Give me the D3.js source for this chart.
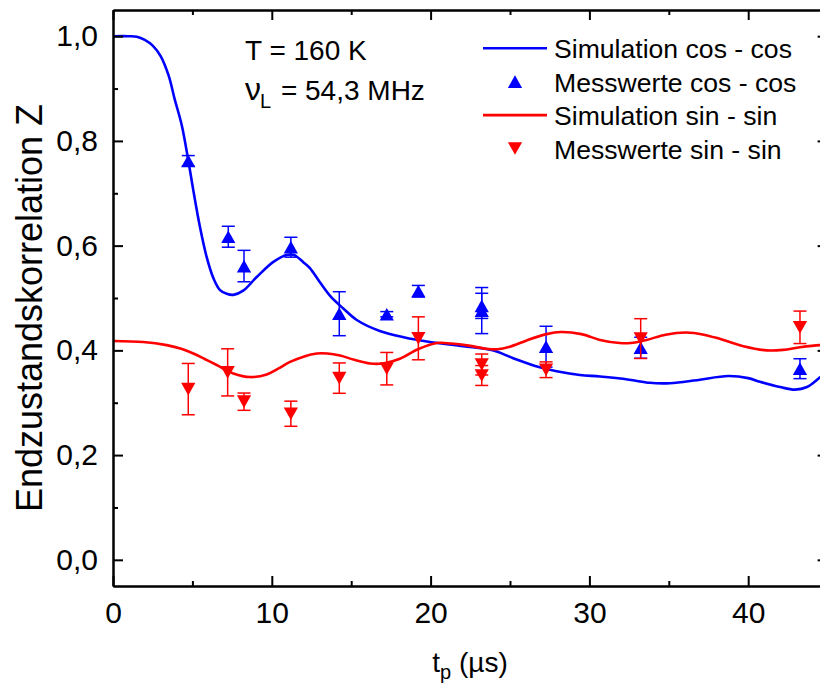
<!DOCTYPE html>
<html>
<head>
<meta charset="utf-8">
<script src="https://cdn.jsdelivr.net/npm/d3@7"></script>
<style>
  body { margin: 0; background: #fff; }
  svg { display: block; font-family: "Liberation Sans", Arial, sans-serif; }
</style>
</head>
<body>
<svg id="chart" width="820" height="688"></svg>
<script>
// simulation curves (t in µs, Z)
const simCosT = [0, 1.0, 1.5, 2.0, 2.5, 3.0, 3.5, 3.9, 4.33, 4.74, 5.06, 5.48, 5.9, 6.32, 6.74, 7.16, 7.58, 8.2, 9.05, 10.1, 10.94, 11.4, 12.0, 12.4, 13.03, 13.7, 14.5, 15.35, 16.8, 18.3, 19.96, 22.06, 23.9, 25.2, 26.7, 27.94, 29.4, 30.67, 32.5, 33.8, 34.87, 36.0, 36.96, 38.75, 40.0, 40.74, 42.0, 42.95, 43.7, 44.5, 45];
const simCosZ = [1.0, 1.0, 0.999, 0.993, 0.982, 0.962, 0.925, 0.878, 0.83, 0.763, 0.705, 0.635, 0.578, 0.538, 0.515, 0.508, 0.506, 0.514, 0.540, 0.569, 0.582, 0.582, 0.568, 0.557, 0.530, 0.503, 0.480, 0.458, 0.437, 0.425, 0.416, 0.408, 0.400, 0.385, 0.369, 0.360, 0.353, 0.350, 0.344, 0.338, 0.337, 0.340, 0.344, 0.351, 0.347, 0.340, 0.330, 0.325, 0.330, 0.348, 0.36];
const simSinT = [0, 1.9, 3.38, 4.3, 5.06, 5.8, 6.53, 7.58, 8.63, 9.68, 10.4, 11.15, 12.0, 12.83, 13.5, 14.3, 15.2, 16.18, 17.0, 18.07, 19.2, 20.4, 21.3, 22.4, 23.5, 24.2, 25.0, 26.05, 27.3, 28.2, 29.5, 30.67, 31.9, 32.6, 33.6, 34.8, 36.1, 37.2, 38.2, 39.7, 41.16, 42.2, 43.26, 44.5, 45];
const simSinZ = [0.418, 0.416, 0.410, 0.403, 0.394, 0.383, 0.372, 0.356, 0.349, 0.354, 0.365, 0.378, 0.388, 0.394, 0.394, 0.390, 0.382, 0.375, 0.375, 0.384, 0.402, 0.414, 0.413, 0.409, 0.403, 0.402, 0.407, 0.419, 0.431, 0.435, 0.431, 0.420, 0.414, 0.414, 0.420, 0.430, 0.434, 0.430, 0.422, 0.408, 0.400, 0.401, 0.406, 0.41, 0.41];

// measured values
const cosT = [4.74, 7.26, 8.25, 11.2, 14.25, 17.24, 19.23, 23.22, 23.22, 27.27, 33.23, 43.26];
const cosZ = [0.762, 0.617, 0.561, 0.597, 0.470, 0.469, 0.513, 0.485, 0.476, 0.407, 0.405, 0.365];
const cosErr = [0.010, 0.020, 0.030, 0.019, 0.042, 0.005, 0.011, 0.024, 0.044, 0.039, 0.020, 0.019];
const sinT = [4.74, 7.22, 8.25, 11.2, 14.25, 17.24, 19.23, 23.22, 23.22, 27.27, 33.23, 43.26];
const sinZ = [0.326, 0.358, 0.302, 0.279, 0.347, 0.365, 0.423, 0.373, 0.352, 0.363, 0.4225, 0.444];
const sinErr = [0.049, 0.045, 0.0165, 0.024, 0.029, 0.031, 0.041, 0.020, 0.019, 0.015, 0.038, 0.031];

const xTicks = [0, 10, 20, 30, 40];
const xTickLabels = ["0", "10", "20", "30", "40"];
const xMinor = [5, 15, 25, 35, 45];
const yTicks = [0, 0.2, 0.4, 0.6, 0.8, 1.0];
const yTickLabels = ["0,0", "0,2", "0,4", "0,6", "0,8", "1,0"];
const yMinor = [0.1, 0.3, 0.5, 0.7, 0.9];

const legendItems = [
  {label: "Simulation cos - cos", kind: "line", color: "#0000ff"},
  {label: "Messwerte cos - cos", kind: "up", color: "#0000ff"},
  {label: "Simulation sin - sin", kind: "line", color: "#ff0000"},
  {label: "Messwerte sin - sin", kind: "down", color: "#ff0000"}
];

const svg = d3.select("#chart");
const mLeft = 113, mRight = 827.6, mTop = 10, mBottom = 586;
const x = d3.scaleLinear().domain([0, 45]).range([mLeft, mRight]);
const y = d3.scaleLinear().domain([-0.05, 1.05]).range([mBottom, mTop]);

// triangle symbols centered on their bounding box
const triUp = {draw(ctx, size) { const w = Math.sqrt(size * 4 / Math.sqrt(3)), h = w * 0.89;
  ctx.moveTo(0, -h / 2); ctx.lineTo(w / 2, h / 2); ctx.lineTo(-w / 2, h / 2); ctx.closePath(); }};
const triDown = {draw(ctx, size) { const w = Math.sqrt(size * 4 / Math.sqrt(3)), h = w * 0.89;
  ctx.moveTo(0, h / 2); ctx.lineTo(w / 2, -h / 2); ctx.lineTo(-w / 2, -h / 2); ctx.closePath(); }};
const symSize = 88;

svg.append("clipPath").attr("id", "clip").append("rect")
  .attr("x", mLeft).attr("y", mTop).attr("width", mRight - mLeft).attr("height", mBottom - mTop);

const line = d3.line().x(d => x(d[0])).y(d => y(d[1])).curve(d3.curveCatmullRom.alpha(0.5));
const plot = svg.append("g").attr("clip-path", "url(#clip)");

function drawSeries(simT, simZ, t, z, err, color, sym) {
  plot.append("path").datum(d3.zip(simT, simZ)).attr("d", line)
    .attr("fill", "none").attr("stroke", color).attr("stroke-width", 2.6);
  const pts = d3.zip(t, z, err);
  const g = plot.append("g");
  pts.forEach(([tt, zz, ee]) => {
    const cx = x(tt), y1 = y(zz + ee), y2 = y(zz - ee);
    g.append("line").attr("x1", cx).attr("x2", cx).attr("y1", y1).attr("y2", y2)
      .attr("stroke", color).attr("stroke-width", 1.5);
    [y1, y2].forEach(yy => g.append("line").attr("x1", cx - 6.5).attr("x2", cx + 6.5)
      .attr("y1", yy).attr("y2", yy).attr("stroke", color).attr("stroke-width", 1.5));
  });
  g.selectAll("path.pt").data(pts).join("path").attr("class", "pt")
    .attr("d", d3.symbol().type(sym).size(symSize))
    .attr("transform", d => `translate(${x(d[0])},${y(d[1])})`)
    .attr("fill", color);
}

drawSeries(simCosT, simCosZ, cosT, cosZ, cosErr, "#0000ff", triUp);
drawSeries(simSinT, simSinZ, sinT, sinZ, sinErr, "#ff0000", triDown);

// axes
function styleAxis(g) {
  g.selectAll("path.domain").attr("stroke", "#000").attr("stroke-width", 2);
  g.selectAll(".tick line").attr("stroke", "#000").attr("stroke-width", 2);
  g.selectAll("text").attr("fill", "#000").style("font-size", "30px").style("font-family", "'Liberation Sans', Arial, sans-serif");
}
svg.append("g").attr("transform", `translate(0,${mBottom})`)
  .call(d3.axisBottom(x).tickValues(xTicks).tickFormat((d, i) => xTickLabels[i]).tickSize(-10).tickSizeOuter(0).tickPadding(16))
  .call(styleAxis);
svg.append("g").attr("transform", `translate(0,${mBottom})`)
  .call(d3.axisBottom(x).tickValues(xMinor).tickFormat("").tickSize(-5).tickSizeOuter(0)).call(styleAxis);
svg.append("g").attr("transform", `translate(0,${mTop})`)
  .call(d3.axisTop(x).tickValues(xTicks).tickFormat("").tickSize(-10).tickSizeOuter(0)).call(styleAxis);
svg.append("g").attr("transform", `translate(0,${mTop})`)
  .call(d3.axisTop(x).tickValues(xMinor).tickFormat("").tickSize(-5).tickSizeOuter(0)).call(styleAxis);

svg.append("g").attr("transform", `translate(${mLeft},0)`)
  .call(d3.axisLeft(y).tickValues(yTicks).tickFormat((d, i) => yTickLabels[i]).tickSize(-10).tickSizeOuter(0).tickPadding(15))
  .call(styleAxis);
svg.append("g").attr("transform", `translate(${mLeft},0)`)
  .call(d3.axisLeft(y).tickValues(yMinor).tickFormat("").tickSize(-5).tickSizeOuter(0)).call(styleAxis);
svg.append("g").attr("transform", `translate(${mRight},0)`)
  .call(d3.axisRight(y).tickValues(yTicks).tickFormat("").tickSize(-10).tickSizeOuter(0)).call(styleAxis);
svg.append("g").attr("transform", `translate(${mRight},0)`)
  .call(d3.axisRight(y).tickValues(yMinor).tickFormat("").tickSize(-5).tickSizeOuter(0)).call(styleAxis);

// axis titles
svg.append("text").attr("transform", "translate(42,308) rotate(-90)")
  .attr("text-anchor", "middle").style("font-size", "36px").text("Endzustandskorrelation Z");
const xl = svg.append("text").attr("x", 470).attr("y", 672).attr("text-anchor", "middle").style("font-size", "28px");
xl.append("tspan").text("t");
xl.append("tspan").attr("dy", 7).style("font-size", "20px").text("p");
xl.append("tspan").attr("dy", -7).text(" (µs)");

// annotation
svg.append("text").attr("x", 245).attr("y", 60).style("font-size", "28px").text("T = 160 K");
const nu = svg.append("text").attr("x", 245).attr("y", 100).style("font-size", "28px");
nu.append("tspan").style("font-size", "32px").text("ν");
nu.append("tspan").attr("dy", 8).attr("dx", -1).style("font-size", "20px").text("L");
nu.append("tspan").attr("dy", -8).attr("dx", 2).text(" = 54,3 MHz");

// legend
const lg = svg.append("g");
legendItems.forEach((it, i) => {
  const cy = 48.3 + i * 33.4;
  if (it.kind === "line") {
    lg.append("line").attr("x1", 483).attr("x2", 547).attr("y1", cy).attr("y2", cy)
      .attr("stroke", it.color).attr("stroke-width", 2.6);
  } else {
    lg.append("path").attr("d", d3.symbol().type(it.kind === "up" ? triUp : triDown).size(symSize))
      .attr("transform", `translate(515,${cy})`).attr("fill", it.color);
  }
  lg.append("text").attr("x", 554).attr("y", cy + 10).style("font-size", "26.6px").text(it.label);
});
</script>
</body>
</html>
